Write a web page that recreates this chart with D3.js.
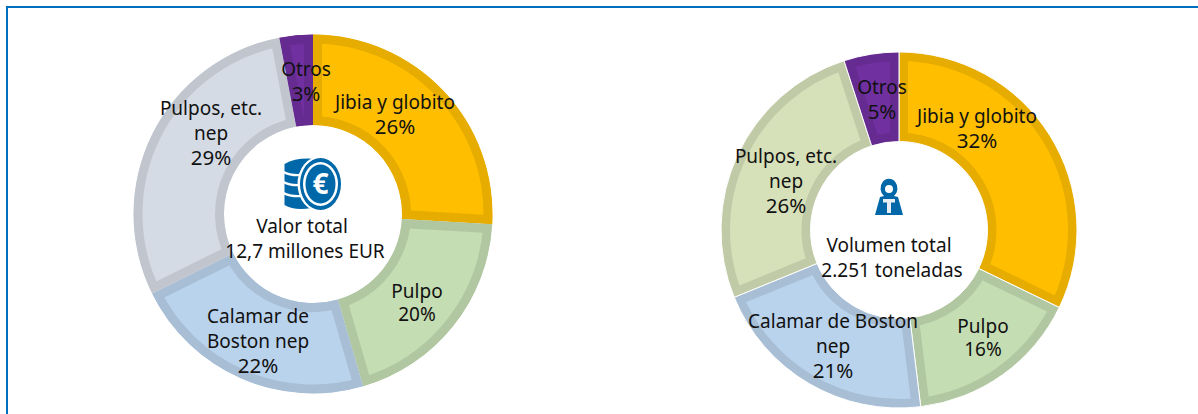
<!DOCTYPE html>
<html><head><meta charset="utf-8">
<script src="https://cdn.jsdelivr.net/npm/d3@7/dist/d3.min.js"></script>
<style>html,body{margin:0;padding:0;background:#fff}svg{display:block}text{font-family:"Noto Sans",sans-serif;font-size:19px;fill:#111;text-anchor:middle}</style>
</head><body><svg id="c" width="1198" height="414"></svg>
<script>
const categories = ["Jibia y globito","Pulpo","Calamar de Boston nep","Pulpos, etc. nep","Otros"];
const valueSharesLeft = [25.9,19.6,22.2,29.3,3.0];
const volumeSharesRight = [32.2,15.9,20.8,26.2,5.0];
const valueLabelsLeft = ["26%","20%","22%","29%","3%"];
const volumeLabelsRight = ["32%","16%","21%","26%","5%"];
const leftNameLines = [["Jibia y globito"],["Pulpo"],["Calamar de","Boston nep"],["Pulpos, etc.","nep"],["Otros"]];
const rightNameLines = [["Jibia y globito"],["Pulpo"],["Calamar de Boston","nep"],["Pulpos, etc.","nep"],["Otros"]];
const centerLeft = ["Valor total","12,7 millones EUR"];
const centerRight = ["Volumen total","2.251 toneladas"];

const fillsLeft = ["#FFBF00","#C5DDB3","#B9D3EC","#D5DBE5","#7030A0"];
const fillsRight = ["#FFBF00","#C5DDB3","#B9D3EC","#D6E0B9","#7030A0"];
const strokesLeft = ["#E6AC00","#B1C7A1","#A7BED5","#C0C5CE","#652B90"];
const strokesRight = ["#E6AC00","#B1C7A1","#A7BED5","#C1CAA7","#652B90"];
// baseline of each label's first line; index 1 (Pulpo) sits on a tighter leading
const labelPosLeft = [[395,109],[417,298],[258,323],[211,115],[306,76]];
const labelPosRight = [[977,123],[983,333],[833,328],[786,163],[882,94]];

const svg = d3.select("#c");
const defs = svg.append("defs");
svg.append("path").attr("d","M7 414V7H1198").attr("fill","none").attr("stroke","#0070BE").attr("stroke-width",2);

function donut(id,cx,cy,R,r,vals,fills,strokes,sep){
  const pie = d3.pie().sort(null).value(d=>d)(vals);
  const arc = d3.arc().innerRadius(r).outerRadius(R);
  const g = svg.append("g").attr("transform",`translate(${cx},${cy})`);
  pie.forEach((p,i)=>{
    const d = arc(p);
    defs.append("clipPath").attr("id",id+i).append("path").attr("d",d);
    g.append("path").attr("d",d).attr("fill",fills[i]).attr("stroke",strokes[i]).attr("stroke-width",18).attr("clip-path",`url(#${id}${i})`);
    if(sep) g.append("path").attr("d",d).attr("fill","none").attr("stroke","#fff").attr("stroke-width",sep);
  });
}
donut("a",313,214,179.5,89,valueSharesLeft,fillsLeft,strokesLeft,0);
donut("b",899,230,178,88.5,volumeSharesRight,fillsRight,strokesRight,1);

function labels(pos,lines,pcts){
  pos.forEach((p,i)=>{
    const t = svg.append("text").attr("transform",`translate(${p[0]},${p[1]})`);
    lines[i].forEach((s,k)=>t.append("tspan").attr("x",0).attr("y",k*25).text(s));
    const tight = i===1;
    t.append("tspan").attr("x",0).attr("y",lines[i].length*(tight?23:25)).style("font-size",tight?"19px":"20.5px").text(pcts[i]);
  });
}
labels(labelPosLeft,leftNameLines,valueLabelsLeft);
labels(labelPosRight,rightNameLines,volumeLabelsRight);

function center(x,y,lines,dx){
  lines.forEach((s,k)=>svg.append("text").attr("x",x+k*dx).attr("y",y+k*25).text(s));
}
center(302,233,centerLeft,3);
center(889,252,centerRight,3);

// coin icon
const blue="#0067A8";
const coin=svg.append("g").attr("transform","translate(320.5,184)");
coin.append("path").attr("fill",blue).attr("d","M-36,-20 Q-24,-27 -4,-25 L-14,-14 L-18,-8 L-20,0 L-20,8 L-17,16 L-9,24 Q-26,27 -36,21Z");
coin.append("path").attr("fill","none").attr("stroke","#fff").attr("stroke-width",2.2).attr("d","M-37,-12 Q-30,-8 -18,-9 M-37,-2 Q-30,2 -19,1 M-37,9 Q-30,13 -18,12");
coin.append("ellipse").attr("rx",23).attr("ry",28).attr("fill","#fff");
coin.append("ellipse").attr("rx",20.5).attr("ry",26).attr("fill",blue);
coin.append("ellipse").attr("rx",17.5).attr("ry",22).attr("fill","#fff");
coin.append("ellipse").attr("rx",15).attr("ry",19.5).attr("fill",blue);
coin.append("text").attr("y",10).attr("style","font-size:28px;font-weight:700;fill:#fff").text("€");

// weight icon
const w=svg.append("g").attr("transform","translate(889,198)");
w.append("path").attr("fill",blue).attr("d","M-5,-2 A8.5,9.5 0 1 1 5,-2 L9,-1 L14,17 L-14,17 L-9,-1Z");
w.append("circle").attr("cy",-9).attr("r",4).attr("fill","#fff");
w.append("path").attr("fill","#e8eef4").attr("d","M-6,1H6V4.5H2V15H-2V4.5H-6Z");
</script></body></html>
